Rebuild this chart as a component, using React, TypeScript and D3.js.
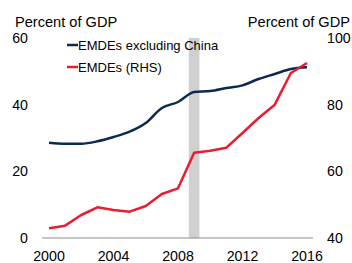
import { useEffect, useRef } from "react";
import * as d3 from "d3";

const years = [2000, 2001, 2002, 2003, 2004, 2005, 2006, 2007, 2008, 2009, 2010, 2011, 2012, 2013, 2014, 2015, 2016];
const emdesExChina = [28.6, 28.3, 28.3, 29.0, 30.3, 31.9, 34.5, 39.0, 40.8, 43.8, 44.1, 45.0, 45.8, 47.7, 49.2, 50.7, 51.2];
const emdesRhs = [42.9, 43.7, 46.9, 49.2, 48.4, 47.9, 49.6, 53.2, 54.9, 65.6, 66.2, 67.1, 71.5, 76.0, 80.0, 89.5, 92.5];
const leftTicks = [0, 20, 40, 60];
const rightTicks = [40, 60, 80, 100];
const xTicks = [2000, 2004, 2008, 2012, 2016];
const shadeYear = 2009;

const NAVY = "#0b2a4f";
const RED = "#ec1c2e";

export default function App() {
  const ref = useRef<SVGSVGElement>(null);

  useEffect(() => {
    if (!ref.current) return;
    const svg = d3.select(ref.current);
    svg.selectAll("*").remove();

    const x = d3.scaleLinear().domain([2000, 2016]).range([49, 307]);
    const yL = d3.scaleLinear().domain([0, 60]).range([238, 38]);
    const yR = d3.scaleLinear().domain([40, 100]).range([238, 38]);
    const font = "'Liberation Sans', Arial, sans-serif";

    // recession shade
    svg.append("rect")
      .attr("x", x(shadeYear - 0.33))
      .attr("y", yL(60))
      .attr("width", x(shadeYear + 0.33) - x(shadeYear - 0.33))
      .attr("height", yL(0) - yL(60))
      .attr("fill", "#d0d0d0");

    // x axis line
    svg.append("line")
      .attr("x1", 42).attr("x2", 313)
      .attr("y1", yL(0)).attr("y2", yL(0))
      .attr("stroke", "#8c8c8c").attr("stroke-width", 1);

    svg.append("g").selectAll("text")
      .data(xTicks).enter().append("text")
      .attr("x", (d) => x(d))
      .attr("y", 261)
      .attr("text-anchor", "middle")
      .style("font-family", font).style("font-size", "14.2px").attr("fill", "#000")
      .text((d) => d);

    svg.append("g").selectAll("text")
      .data(leftTicks).enter().append("text")
      .attr("x", 28)
      .attr("y", (d) => yL(d) + 5)
      .attr("text-anchor", "end")
      .style("font-family", font).style("font-size", "14.2px").attr("fill", "#000")
      .text((d) => d);

    svg.append("g").selectAll("text")
      .data(rightTicks).enter().append("text")
      .attr("x", 327)
      .attr("y", (d) => yR(d) + 5)
      .attr("text-anchor", "start")
      .style("font-family", font).style("font-size", "14.2px").attr("fill", "#000")
      .text((d) => d);

    svg.append("text").attr("x", 15).attr("y", 27)
      .style("font-family", font).style("font-size", "14.6px").text("Percent of GDP");
    svg.append("text").attr("x", 350).attr("y", 27).attr("text-anchor", "end")
      .style("font-family", font).style("font-size", "14.6px").text("Percent of GDP");

    const lineL = d3.line<number>().x((_, i) => x(years[i])).y((d) => yL(d)).curve(d3.curveMonotoneX);
    const lineR = d3.line<number>().x((_, i) => x(years[i])).y((d) => yR(d));

    svg.append("path").datum(emdesExChina)
      .attr("d", lineL).attr("fill", "none")
      .attr("stroke", NAVY).attr("stroke-width", 2.5).attr("stroke-linejoin", "round");
    svg.append("path").datum(emdesRhs)
      .attr("d", lineR).attr("fill", "none")
      .attr("stroke", RED).attr("stroke-width", 2.5).attr("stroke-linejoin", "round");

    // legend
    const legend = [
      { label: "EMDEs excluding China", color: NAVY, y: 45 },
      { label: "EMDEs (RHS)", color: RED, y: 67 },
    ];
    const lg = svg.append("g");
    legend.forEach((l) => {
      lg.append("line")
        .attr("x1", 67).attr("x2", 78).attr("y1", l.y).attr("y2", l.y)
        .attr("stroke", l.color).attr("stroke-width", 2.5);
      lg.append("text")
        .attr("x", 78).attr("y", l.y + 5)
        .style("font-family", font).style("font-size", "13px")
        .text(l.label);
    });
  }, []);

  return (
    <div style={{ position: "absolute", left: 0, top: 0 }}>
      <svg ref={ref} width={352} height={263} style={{ display: "block", background: "#fff" }} />
    </div>
  );
}
